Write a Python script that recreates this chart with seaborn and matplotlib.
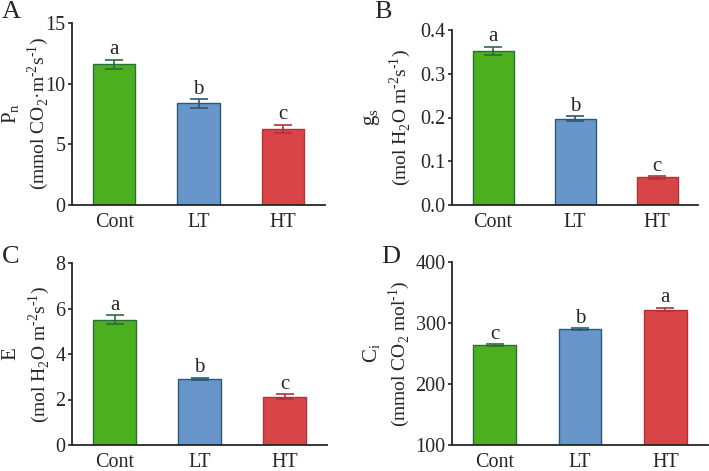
import matplotlib
matplotlib.use('Agg')
import matplotlib.pyplot as plt
import seaborn as sns
import pandas as pd

groups = ['Cont', 'LT', 'HT']
fills = ['#4cb01e', '#6896cb', '#d94447']
edges = ['#2f6b3c', '#2b5873', '#b0323a']

pn_mean = [11.6, 8.37, 6.27]
pn_err = [0.35, 0.35, 0.35]
pn_sig = ['a', 'b', 'c']

gs_mean = [0.353, 0.197, 0.063]
gs_err = [0.009, 0.006, 0.003]
gs_sig = ['a', 'b', 'c']

e_mean = [5.51, 2.91, 2.12]
e_err = [0.2, 0.05, 0.1]
e_sig = ['a', 'b', 'c']

ci_mean = [264, 290, 322]
ci_err = [1, 1, 3]
ci_sig = ['c', 'b', 'a']

W, H = 709, 471

# letter, mean, err, sig, ylim, yticks, fmt, label line 1, label line 2,
# axes rect (px: left, bottom, right, top), label x (px), letter pos (px)
panels = [
    ('A', pn_mean, pn_err, pn_sig, (0, 15), [0, 5, 10, 15], '%d',
     'P$_\\mathregular{n}$',
     '(mmol CO$_\\mathregular{2}$·m$^\\text{-2}$s$^\\text{-1}$)',
     (72, 205, 325, 23), (11, 38), (2, 1)),
    ('B', gs_mean, gs_err, gs_sig, (0, 0.4), [0, 0.1, 0.2, 0.3, 0.4], '%.1f',
     'g$_\\mathregular{s}$',
     '(mol H$_\\mathregular{2}$O m$^\\text{-2}$s$^\\text{-1}$)',
     (452, 205, 698, 30), (372, 400), (374, 1)),
    ('C', e_mean, e_err, e_sig, (0, 8), [0, 2, 4, 6, 8], '%d',
     'E',
     '(mol H$_\\mathregular{2}$O m$^\\text{-2}$s$^\\text{-1}$)',
     (72, 445, 327, 263), (11, 39), (2, 246)),
    ('D', ci_mean, ci_err, ci_sig, (100, 400), [100, 200, 300, 400], '%d',
     'C$_\\mathregular{i}$',
     '(mmol CO$_\\mathregular{2}$ mol$^\\text{-1}$)',
     (452, 445, 708, 262), (372, 399), (381, 246)),
]

sns.set_style('ticks')
plt.rcParams['font.family'] = ['Liberation Serif', 'DejaVu Serif']
plt.rcParams['mathtext.fontset'] = 'custom'
plt.rcParams['mathtext.rm'] = 'Liberation Serif'

fig = plt.figure(figsize=(W / 100, H / 100), dpi=100)

for (letter, mean, err, sig, ylim, yticks, fmt, lab1, lab2,
     box, labx, letpos) in panels:
    l, b, r, t = box
    ax = fig.add_axes([l / W, 1 - b / H, (r - l) / W, (b - t) / H])
    df = pd.DataFrame({'group': groups, 'value': mean})
    sns.barplot(data=df, x='group', y='value', hue='group', palette=fills,
                saturation=1, width=0.5, legend=False, ax=ax)
    for patch, ec in zip(ax.patches, edges):
        patch.set_edgecolor(ec)
        patch.set_linewidth(1.0)
    span = ylim[1] - ylim[0]
    for i in range(len(groups)):
        ax.errorbar(i, mean[i], yerr=err[i], fmt='none', ecolor=edges[i],
                    elinewidth=1.2, capsize=6.5, capthick=1.2)
        ax.text(i, mean[i] + err[i] + span * 0.003, sig[i], ha='center',
                va='bottom', fontsize=15)
    ax.set_xlim(-0.5, 2.5)
    ax.set_ylim(*ylim)
    ax.set_yticks(yticks)
    ax.set_yticklabels([fmt % v for v in yticks])
    ax.set_xlabel('')
    ax.set_ylabel('')
    ax.tick_params(axis='y', labelsize=14.5, length=3, width=1.2, pad=1.5)
    ax.tick_params(axis='x', labelsize=14.5, length=0, pad=6)
    sns.despine(ax=ax)
    for s in ['left', 'bottom']:
        ax.spines[s].set_linewidth(1.3)

    yc = 1 - (b + t) / 2 / H
    fig.text(labx[0] / W, yc, lab1, rotation=90, ha='center', va='center',
             fontsize=15)
    fig.text(labx[1] / W, yc, lab2, rotation=90, ha='center', va='center',
             fontsize=14)
    fig.text(letpos[0] / W, 1 - letpos[1] / H, letter, fontsize=19,
             ha='left', va='top')

fig.savefig('out.png', dpi=100)
